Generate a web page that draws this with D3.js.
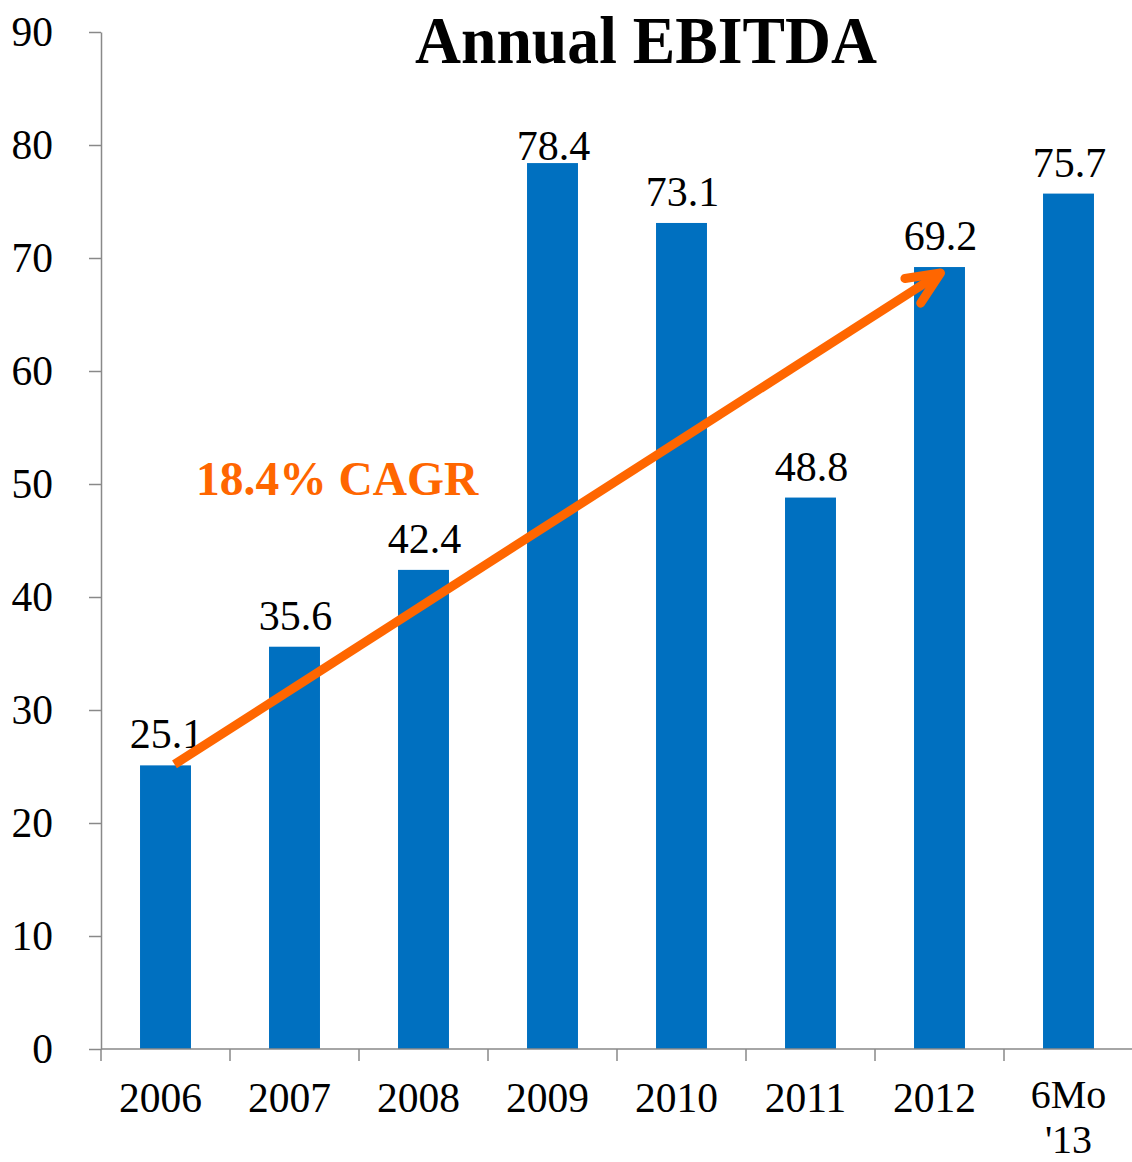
<!DOCTYPE html>
<html>
<head>
<meta charset="utf-8">
<script src="https://cdn.jsdelivr.net/npm/d3@7"></script>
<style>
  body { margin: 0; background: #fff; }
  svg { display: block; font-family: "Liberation Serif", "Times New Roman", serif; }
</style>
</head>
<body>
<svg id="chart" width="1132" height="1162"></svg>
<script>
// data
var categories = ["2006", "2007", "2008", "2009", "2010", "2011", "2012", "6Mo '13"];
var ebitda = [25.1, 35.6, 42.4, 78.4, 73.1, 48.8, 69.2, 75.7];
var yTicks = [0, 10, 20, 30, 40, 50, 60, 70, 80, 90];
var cagrText = "18.4% CAGR";
var cagrFrom = "2006", cagrTo = "2012";

var svg = d3.select("#chart");
var axisColor = "#898989";
var barColor = "#0070C0";
var orange = "#FF6600";

var x = d3.scaleBand()
    .domain(categories)
    .range([101, 1133])
    .paddingInner(0.605)
    .paddingOuter(0.3025);

var y = d3.scaleLinear()
    .domain([0, 90])
    .range([1049, 32]);

// y axis
var yAxis = svg.append("g")
    .attr("transform", "translate(101,0)")
    .call(d3.axisLeft(y).tickValues(yTicks).tickSize(12).tickSizeOuter(0).tickPadding(36));
yAxis.attr("font-family", null);
yAxis.select(".domain").attr("stroke", axisColor).attr("stroke-width", 1.5);
yAxis.selectAll(".tick line").attr("stroke", axisColor).attr("stroke-width", 1.5);
yAxis.selectAll(".tick text")
    .attr("font-size", 41.5)
    .attr("fill", "#000")
    .attr("dy", "0.33em");

// bars
svg.append("g").selectAll("rect")
    .data(ebitda)
    .join("rect")
    .attr("x", function(d, i) { return x(categories[i]); })
    .attr("y", function(d) { return y(d); })
    .attr("width", x.bandwidth())
    .attr("height", function(d) { return y(0) - y(d); })
    .attr("fill", barColor);

// x axis line and ticks at band boundaries
var gap = (x.step() - x.bandwidth()) / 2;
var xg = svg.append("g");
xg.append("line")
    .attr("x1", 101).attr("x2", 1132)
    .attr("y1", y(0)).attr("y2", y(0))
    .attr("stroke", axisColor).attr("stroke-width", 1.5);
var bounds = categories.map(function(c) { return x(c) - gap; });
bounds.push(x(categories[categories.length - 1]) + x.bandwidth() + gap);
xg.selectAll(".xt")
    .data(bounds)
    .join("line")
    .attr("class", "xt")
    .attr("x1", function(d) { return d; }).attr("x2", function(d) { return d; })
    .attr("y1", y(0)).attr("y2", y(0) + 12)
    .attr("stroke", axisColor).attr("stroke-width", 1.5);

// category labels; the two-line one is set a bit tighter so it fits the bottom edge
xg.selectAll(".xl")
    .data(categories)
    .join("text")
    .attr("class", "xl")
    .attr("text-anchor", "middle")
    .each(function(c) {
        var t = d3.select(this);
        var cx = x(c) + x.bandwidth() / 2;
        var parts = c.split(" ");
        if (parts.length === 1) {
            t.attr("font-size", 41.5).attr("x", cx - 5).attr("y", 1112).text(c);
        } else {
            t.attr("font-size", 40).attr("y", 1108);
            parts.forEach(function(p, j) {
                t.append("tspan").attr("x", cx).attr("dy", j === 0 ? 0 : 45).text(p);
            });
        }
    });

// value labels (the 2009 one sits tight on the bar, as in the original)
svg.append("g").selectAll("text")
    .data(ebitda)
    .join("text")
    .attr("text-anchor", "middle")
    .attr("font-size", 42)
    .attr("x", function(d, i) { return x(categories[i]) + x.bandwidth() / 2 + 1; })
    .attr("y", function(d, i) { return y(d) - (d === d3.max(ebitda) ? 3 : 17); })
    .text(function(d) { return d3.format(".1f")(d); });

// title
svg.append("text")
    .attr("x", 646)
    .attr("y", 63)
    .attr("text-anchor", "middle")
    .attr("font-weight", "bold")
    .attr("font-size", 68)
    .attr("textLength", 462)
    .attr("lengthAdjust", "spacingAndGlyphs")
    .text("Annual EBITDA");

// CAGR arrow
var i0 = categories.indexOf(cagrFrom), i1 = categories.indexOf(cagrTo);
var x0 = x(cagrFrom) + x.bandwidth() / 2 + 9, y0 = y(ebitda[i0]) - 1;
var x1 = x(cagrTo) + x.bandwidth() / 2 + 1, y1 = y(ebitda[i1]) + 6;
var ang = Math.atan2(y1 - y0, x1 - x0);
var headLen = 36, headAng = 24 * Math.PI / 180;
var back = ang + Math.PI;
var a1 = [x1 + headLen * Math.cos(back - headAng), y1 + headLen * Math.sin(back - headAng)];
var a2 = [x1 + headLen * Math.cos(back + headAng), y1 + headLen * Math.sin(back + headAng)];

svg.append("line")
    .attr("x1", x0).attr("y1", y0)
    .attr("x2", x1 - 4 * Math.cos(ang)).attr("y2", y1 - 4 * Math.sin(ang))
    .attr("stroke", orange).attr("stroke-width", 9);
svg.append("path")
    .attr("d", d3.line()([a1, [x1, y1], a2]))
    .attr("fill", "none")
    .attr("stroke", orange)
    .attr("stroke-width", 9)
    .attr("stroke-linecap", "round")
    .attr("stroke-linejoin", "round");

svg.append("text")
    .attr("x", 196)
    .attr("y", 495)
    .attr("font-weight", "bold")
    .attr("font-size", 47.5)
    .attr("fill", orange)
    .text(cagrText);
</script>
</body>
</html>
